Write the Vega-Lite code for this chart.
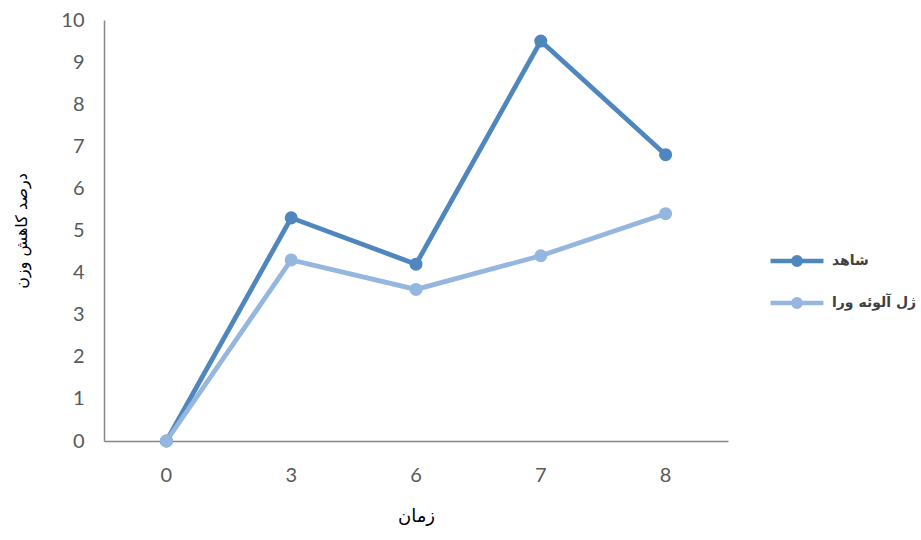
{
  "$schema": "https://vega.github.io/schema/vega-lite/v6.json",
  "width": 624,
  "height": 421,
  "autosize": {"type": "none"},
  "padding": {"left": 104, "top": 20, "right": 193, "bottom": 99},
  "background": "white",
  "config": {
    "view": {"stroke": null},
    "font": "DejaVu Sans"
  },
  "data": {
    "values": [
      {"time": "0", "series": "شاهد", "loss": 0},
      {"time": "3", "series": "شاهد", "loss": 5.3},
      {"time": "6", "series": "شاهد", "loss": 4.2},
      {"time": "7", "series": "شاهد", "loss": 9.5},
      {"time": "8", "series": "شاهد", "loss": 6.8},
      {"time": "0", "series": "ژل آلوئه ورا", "loss": 0},
      {"time": "3", "series": "ژل آلوئه ورا", "loss": 4.3},
      {"time": "6", "series": "ژل آلوئه ورا", "loss": 3.6},
      {"time": "7", "series": "ژل آلوئه ورا", "loss": 4.4},
      {"time": "8", "series": "ژل آلوئه ورا", "loss": 5.4}
    ]
  },
  "mark": {
    "type": "line",
    "strokeWidth": 4.8,
    "point": {"filled": true, "size": 170, "opacity": 1}
  },
  "encoding": {
    "x": {
      "field": "time",
      "type": "ordinal",
      "sort": ["0", "3", "6", "7", "8"],
      "scale": {"type": "band", "paddingInner": 0, "paddingOuter": 0},
      "axis": {
        "title": "زمان",
        "titleFont": "DejaVu Sans",
        "titleFontSize": 18,
        "titleFontWeight": "normal",
        "titleColor": "#000000",
        "titlePadding": 22,
        "labelAngle": 0,
        "labelFont": "Lato",
        "labelFontSize": 20,
        "labelColor": "#595959",
        "labelPadding": 24,
        "ticks": false,
        "domainColor": "#868686",
        "domainWidth": 1.5,
        "grid": false
      }
    },
    "y": {
      "field": "loss",
      "type": "quantitative",
      "scale": {"domain": [0, 10], "nice": false},
      "axis": {
        "title": "درصد کاهش وزن",
        "titleFont": "DejaVu Sans",
        "titleFontSize": 16,
        "titleFontWeight": "normal",
        "titleColor": "#000000",
        "titlePadding": 31,
        "values": [0, 1, 2, 3, 4, 5, 6, 7, 8, 9, 10],
        "labelFont": "Lato",
        "labelFontSize": 20,
        "labelColor": "#595959",
        "labelPadding": 20,
        "ticks": false,
        "domainColor": "#868686",
        "domainWidth": 1.5,
        "grid": false
      }
    },
    "color": {
      "field": "series",
      "type": "nominal",
      "sort": ["شاهد", "ژل آلوئه ورا"],
      "scale": {"domain": ["شاهد", "ژل آلوئه ورا"], "range": ["#4f86be", "#95b6df"]},
      "legend": {
        "title": null,
        "orient": "none",
        "legendX": 664,
        "legendY": 212,
        "symbolType": "M-1,0H1M0.14,0A0.14,0.14 0 1 1 -0.14,0A0.14,0.14 0 1 1 0.14,0Z",
        "symbolSize": 2800,
        "symbolStrokeWidth": 4.5,
        "symbolOpacity": 1,
        "rowPadding": -12,
        "labelFont": "DejaVu Sans",
        "labelFontSize": 14,
        "labelFontWeight": "bold",
        "labelColor": "#404040",
        "labelOffset": 6,
        "encode": {
          "symbols": {
            "update": {"fill": {"scale": "color", "field": "value"}}
          }
        }
      }
    }
  }
}
